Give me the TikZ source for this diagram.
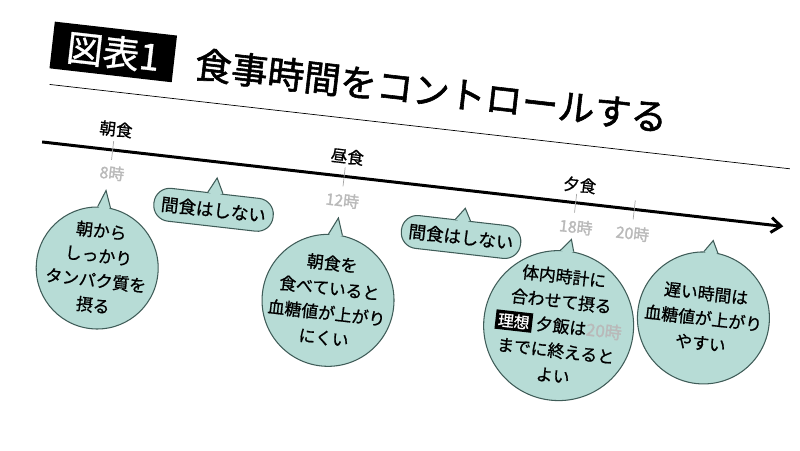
\documentclass[tikz,border=0pt]{standalone}
\usepackage{fontspec}
\setmainfont{Noto Sans CJK JP}
\newfontfamily\jpmedium[FakeBold=0.9]{Noto Sans CJK JP}
\newfontfamily\jpheavy[FakeBold=1.6]{Noto Sans CJK JP}
\usetikzlibrary{arrows.meta,calc}

\definecolor{bubblefill}{HTML}{B7DCD6}
\definecolor{bubbleline}{HTML}{3F5C58}

\begin{document}
\begin{tikzpicture}[x=0.02cm, y=-0.02cm,
    bubble/.style={draw=bubbleline, fill=bubblefill, line width=0.6pt},
    roundbubble/.style={bubble, circle, inner sep=0pt},
    pill/.style={bubble, rectangle, rounded corners=9pt, minimum width=2.4cm, minimum height=0.66cm, inner sep=0pt, font=\jpmedium\fontsize{10}{12}\selectfont},
    bubbletext/.style={align=center, inner sep=0pt, font=\jpmedium\fontsize{9.6}{14.2}\selectfont},
    pointerfill/.style={fill=bubblefill},
    pointerline/.style={draw=bubbleline, line width=0.6pt},
    timeline/.style={line width=1.7pt, -{Straight Barb[length=5.5pt,width=8.5pt]}},
    timetick/.style={draw=gray!70, line width=0.4pt},
    meal/.style={inner sep=0pt, font=\jpmedium\fontsize{9.4}{11}\selectfont},
    hidden/.style={inner sep=0pt, text=gray!55, font=\jpheavy\fontsize{9}{10}\selectfont},
  ]

  % Page frame, in pixels of the 800x450 picture
  \useasboundingbox (0,0) rectangle (800,450);

  %% ------
  %% Everything is laid out flat at fixed coordinates,
  %% then the whole sheet is tilted a little
  %% ----
  \begin{scope}[rotate around={-6.5:(400,225)}, transform shape]

    % Title
    \node[fill=black, text=white, minimum width=2.46cm, minimum height=0.94cm, inner sep=0pt, font=\jpmedium\fontsize{20.8}{24}\selectfont] (badge) at (95.5,85.5) {図表1};
    \node[anchor=west, inner sep=0pt, font=\jpheavy\fontsize{20.8}{24}\selectfont] (title) at (178,88) {食事時間をコントロールする};
    \coordinate (rule0) at (36,125);
    \coordinate (rule1) at (781,125);
    \draw[line width=0.4pt] (rule0) -- (rule1);

    % Time axis
    \coordinate (t0) at (35,183);
    \coordinate (t1) at (781,183);
    \draw[timeline] (t0) -- (t1);

    % Breakfast
    \node[meal] (breakfast) at (107,162) {朝食};
    \draw[timetick] (106,174) -- (106,193);
    \node[hidden] (h8) at (108,206) {8時};

    % Lunch
    \node[meal] (lunch) at (340,163) {昼食};
    \draw[timetick] (339,174) -- (339,193);
    \node[hidden] (h12) at (340,207) {12時};

    % Dinner
    \node[meal] (dinner) at (574,165) {夕食};
    \draw[timetick] (572,174) -- (572,193);
    \node[hidden] (h18) at (575,207) {18時};

    % Late
    \draw[timetick] (631,174) -- (631,193);
    \node[hidden] (h20) at (632,207) {20時};

    %% ------
    %% Speech bubbles: the body first, then the pointer
    %% is filled over the outline and its two sides drawn
    %% ----

    % 1
    \coordinate (tip1) at (104,224);
    \node[roundbubble, minimum size=2.44cm, label={[bubbletext]center:朝から\\しっかり\\タンパク質を\\摂る}] (m1) at (104,302) {};
    \fill[pointerfill] (m1.84) -- (tip1) -- (m1.96) -- ($(m1.center)!0.93!(m1.north)$) -- cycle;
    \draw[pointerline] (m1.84) -- (tip1) -- (m1.96);

    % 2
    \coordinate (tip2) at (213,199);
    \node[pill] (s1) at (213,231) {間食はしない};
    \fill[pointerfill] (s1.66) -- (tip2) -- (s1.114) -- ($(s1.center)!0.8!(s1.north)$) -- cycle;
    \draw[pointerline] (s1.66) -- (tip2) -- (s1.114);

    % 3
    \coordinate (tip3) at (338,225);
    \node[roundbubble, minimum size=2.64cm, label={[bubbletext]center:朝食を\\食べていると\\血糖値が上がり\\にくい}] (m2) at (337,308) {};
    \fill[pointerfill] (m2.84) -- (tip3) -- (m2.96) -- ($(m2.center)!0.93!(m2.north)$) -- cycle;
    \draw[pointerline] (m2.84) -- (tip3) -- (m2.96);

    % 4
    \coordinate (tip4) at (463,201);
    \node[pill] (s2) at (462,230) {間食はしない};
    \fill[pointerfill] (s2.66) -- (tip4) -- (s2.114) -- ($(s2.center)!0.8!(s2.north)$) -- cycle;
    \draw[pointerline] (s2.66) -- (tip4) -- (s2.114);

    % 5
    \coordinate (tip5) at (572,220);
    \node[roundbubble, minimum size=3.0cm, label={[bubbletext]center:体内時計に\\合わせて摂る\\{\fboxsep=1.5pt\colorbox{black}{\textcolor{white}{\fontsize{9}{10}\selectfont 理想}}}~夕飯は{\jpheavy\color{gray!55}20時}\\までに終えると\\よい}] (m3) at (569,307) {};
    \fill[pointerfill] (m3.85) -- (tip5) -- (m3.95) -- ($(m3.center)!0.94!(m3.north)$) -- cycle;
    \draw[pointerline] (m3.85) -- (tip5) -- (m3.95);

    % 6
    \coordinate (tip6) at (713,205);
    \node[roundbubble, minimum size=2.64cm, label={[bubbletext]center:遅い時間は\\血糖値が上がり\\やすい}] (m4) at (712,283) {};
    \fill[pointerfill] (m4.84) -- (tip6) -- (m4.96) -- ($(m4.center)!0.93!(m4.north)$) -- cycle;
    \draw[pointerline] (m4.84) -- (tip6) -- (m4.96);

  \end{scope}

\end{tikzpicture}
\end{document}
